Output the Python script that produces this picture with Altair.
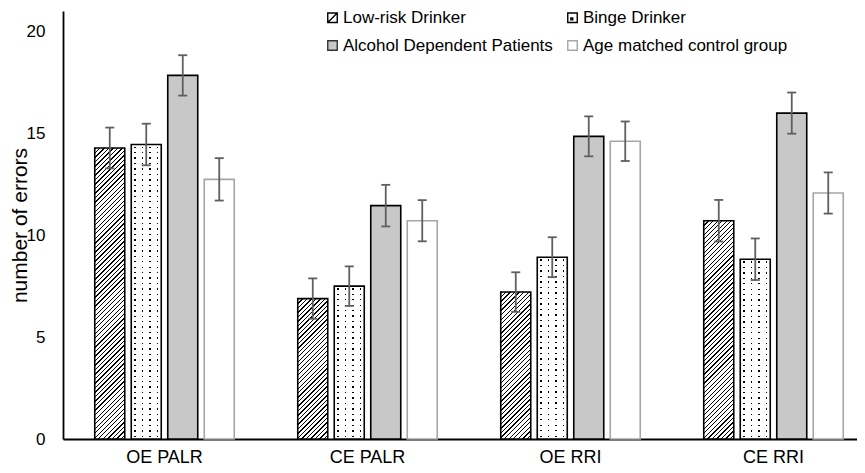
import altair as alt

# ---- data ----
groups = ["OE PALR", "CE PALR", "OE RRI", "CE RRI"]
series = ["Low-risk Drinker", "Binge Drinker", "Alcohol Dependent Patients", "Age matched control group"]
low_risk = [14.28, 6.89, 7.21, 10.71]
binge = [14.45, 7.50, 8.92, 8.82]
dependent = [17.84, 11.45, 14.85, 15.99]
control = [12.74, 10.71, 14.61, 12.07]
err_low = [1.00, 0.99, 0.97, 1.02]
err_binge = [1.02, 0.97, 0.98, 1.02]
err_dep = [0.99, 1.02, 0.98, 1.01]
err_ctrl = [1.04, 1.01, 0.97, 1.01]

# legend reading order (the legend grid fills column by column)
legend_order = ["Low-risk Drinker", "Alcohol Dependent Patients", "Binge Drinker", "Age matched control group"]

# ---- layout / style ----
PLOT_W, PLOT_H, Y_MAX = 812, 428, 21
PX = PLOT_H / Y_MAX
BAR_W = 30.0
FONT = "Liberation Sans"


def hatch(h, w=BAR_W, spacing=4.5, frac=0.3):
    a = (w + h) / (w * w + h * h)
    n = max(1, round((w + h) / spacing))
    stops = []
    for i in range(n):
        stops += [
            {"offset": i / n, "color": "#000000"},
            {"offset": (i + frac) / n, "color": "#000000"},
            {"offset": (i + frac) / n, "color": "#ffffff"},
            {"offset": (i + 1) / n, "color": "#ffffff"},
        ]
    return {"gradient": "linear", "x1": 0, "y1": 0, "x2": a * w, "y2": a * h, "stops": stops}


def rows(h, spacing=5.5, dot=1.4):
    n = max(1, round(h / spacing))
    f = min(0.9, dot / (h / n))
    stops = []
    for i in range(n):
        stops += [
            {"offset": i / n, "color": "#ffffff"},
            {"offset": (i + 0.5 - f / 2) / n, "color": "#ffffff"},
            {"offset": (i + 0.5 - f / 2) / n, "color": "#000000"},
            {"offset": (i + 0.5 + f / 2) / n, "color": "#000000"},
            {"offset": (i + 0.5 + f / 2) / n, "color": "#ffffff"},
            {"offset": (i + 1) / n, "color": "#ffffff"},
        ]
    return {"gradient": "linear", "x1": 0, "y1": 0, "x2": 0, "y2": 1, "stops": stops}


def cols(w=BAR_W, n=4, dot=1.4):
    f = dot / (w / n)
    clear = "rgba(255,255,255,0)"
    stops = []
    for i in range(n):
        stops += [
            {"offset": i / n, "color": "#ffffff"},
            {"offset": (i + 0.5 - f / 2) / n, "color": "#ffffff"},
            {"offset": (i + 0.5 - f / 2) / n, "color": clear},
            {"offset": (i + 0.5 + f / 2) / n, "color": clear},
            {"offset": (i + 0.5 + f / 2) / n, "color": "#ffffff"},
            {"offset": (i + 1) / n, "color": "#ffffff"},
        ]
    return {"gradient": "linear", "x1": 0, "y1": 0, "x2": 1, "y2": 0, "stops": stops}


values_by_series = [low_risk, binge, dependent, control]
errs_by_series = [err_low, err_binge, err_dep, err_ctrl]
stroke_by_series = ["#000000", "#000000", "#000000", "#a6a6a6"]

records = []
for si, s in enumerate(series):
    for gi, g in enumerate(groups):
        v = values_by_series[si][gi]
        e = errs_by_series[si][gi]
        h = v * PX
        if si == 0:
            fa, fb = hatch(h), "rgba(0,0,0,0)"
        elif si == 1:
            fa, fb = rows(h), cols()
        elif si == 2:
            fa, fb = "#c8c8c8", "rgba(0,0,0,0)"
        else:
            fa, fb = "#ffffff", "rgba(0,0,0,0)"
        records.append({
            "group": g, "series": s, "val": v, "lo": v - e, "hi": v + e,
            "fillA": fa, "fillB": fb, "strokeC": stroke_by_series[si],
        })

data = alt.Data(values=records)

x_enc = alt.X("group:N", sort=groups,
              scale=alt.Scale(domain=groups, paddingInner=0, paddingOuter=0),
              axis=alt.Axis(title=None, labelAngle=0, ticks=False, domainColor="#000000",
                            domainWidth=1.8, labelFontSize=18, labelColor="#000000",
                            labelPadding=9, labelFont=FONT))
xo_enc = alt.XOffset("series:N", sort=series,
                     scale=alt.Scale(domain=series, paddingInner=0.178, paddingOuter=0.87))
y_scale = alt.Scale(domain=[0, Y_MAX], nice=False, zero=True)
y_enc = alt.Y("val:Q", scale=y_scale,
              axis=alt.Axis(title="number of errors", values=[0, 5, 10, 15, 20], ticks=False,
                            grid=False, domainColor="#000000", domainWidth=1.8,
                            labelFontSize=17, labelColor="#000000", labelPadding=18,
                            labelFont=FONT, titleFont=FONT, titleFontSize=21,
                            titleFontWeight="normal", titleColor="#000000",
                            titleAngle=-90, titleX=-37, titleY=PLOT_H / 2,
                            titleAlign="center", titleBaseline="alphabetic"))

base = alt.Chart(data)

fill_layer = base.mark_bar(strokeWidth=0).encode(
    x=x_enc, xOffset=xo_enc, y=y_enc,
    fill=alt.Fill("fillA:N", scale=None),
)
mask_layer = base.mark_bar(strokeWidth=0).encode(
    x=x_enc, xOffset=xo_enc, y=y_enc,
    fill=alt.Fill("fillB:N", scale=None),
)
stroke_layer = base.mark_bar(filled=False, strokeWidth=1.6).encode(
    x=x_enc, xOffset=xo_enc, y=y_enc,
    stroke=alt.Stroke("strokeC:N", scale=None),
)

err_color = "#5f5f5f"
err_rule = base.mark_rule(color=err_color, strokeWidth=1.8).encode(
    x=x_enc, xOffset=xo_enc, y=alt.Y("lo:Q", scale=y_scale), y2="hi:Q",
)
cap_lo = base.mark_tick(color=err_color, size=9, thickness=1.8, opacity=1).encode(
    x=x_enc, xOffset=xo_enc, y=alt.Y("lo:Q", scale=y_scale),
)
cap_hi = base.mark_tick(color=err_color, size=9, thickness=1.8, opacity=1).encode(
    x=x_enc, xOffset=xo_enc, y=alt.Y("hi:Q", scale=y_scale),
)

legend = alt.Legend(title=None, orient="none", legendX=261, legendY=-2, columns=2,
                    columnPadding=11, rowPadding=10, labelFont=FONT, labelFontSize=17,
                    labelColor="#000000", labelOffset=2, symbolSize=90,
                    symbolStrokeWidth=1.4, padding=0, labelLimit=400)
style_of = {
    "Low-risk Drinker": ("#ffffff", "#000000", "M-1,-1H1V1H-1Z M-1,1L1,-1"),
    "Binge Drinker": ("#ffffff", "#000000", "M-1,-1H1V1H-1Z M-0.35,0.05H0.05V0.45H-0.35Z"),
    "Alcohol Dependent Patients": ("#c8c8c8", "#333333", "square"),
    "Age matched control group": ("#ffffff", "#a6a6a6", "square"),
}
legend_fills = [style_of[s][0] for s in legend_order]
legend_strokes = [style_of[s][1] for s in legend_order]
legend_shapes = [style_of[s][2] for s in legend_order]

legend_layer = base.mark_point(filled=True, opacity=1, size=90).encode(
    x=x_enc, y=y_enc,
    fill=alt.Fill("series:N", sort=legend_order,
                  scale=alt.Scale(domain=legend_order, range=legend_fills), legend=legend),
    stroke=alt.Stroke("series:N", sort=legend_order,
                      scale=alt.Scale(domain=legend_order, range=legend_strokes), legend=legend),
    shape=alt.Shape("series:N", sort=legend_order,
                    scale=alt.Scale(domain=legend_order, range=legend_shapes), legend=legend),
).transform_filter("datum.val < 0")

chart = alt.layer(
    fill_layer, mask_layer, stroke_layer, err_rule, cap_lo, cap_hi, legend_layer
).properties(
    width=PLOT_W, height=PLOT_H,
    autosize=alt.AutoSizeParams(type="none"),
    padding={"left": 55, "top": 3, "right": -18, "bottom": 26},
    background="#ffffff",
).configure_view(stroke=None)

chart.save("out.html", embed_options={"renderer": "svg", "actions": False})
